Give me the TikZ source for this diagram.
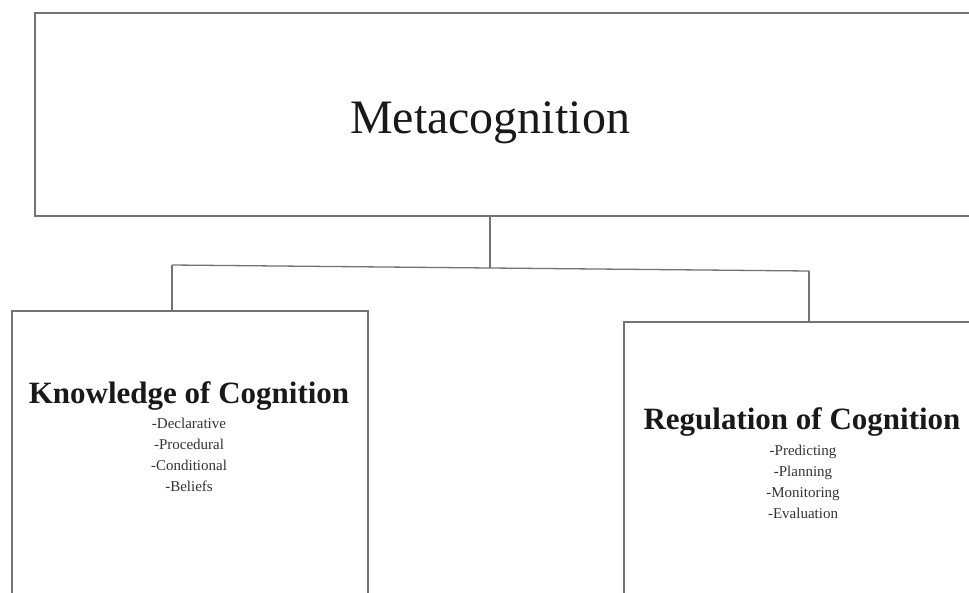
\documentclass[tikz,border=0pt]{standalone}
\usepackage{fontspec}
\setmainfont{Liberation Serif}
\begin{document}
\begin{tikzpicture}[x=1pt,y=-1pt,
  line/.style={draw=black!55, line width=1.3pt},
  boxnode/.style={line, rectangle, inner sep=0pt, fill=white},
  bigtitle/.style={font=\fontsize{48}{56}\selectfont, text=black!90},
  subtitle/.style={font=\fontsize{31}{36}\selectfont\bfseries, text=black!90},
  items/.style={font=\fontsize{15}{21}\selectfont, text=black!80, align=center}]
\useasboundingbox (0,0) rectangle (969,592);
\clip (0,0) rectangle (969,592);
\fill[white] (0,0) rectangle (969,592);
% boxes
\node[boxnode, minimum width=965pt, minimum height=203pt] (top) at (517.5,114.5) {};
\node[boxnode, minimum width=356pt, minimum height=309pt] (left) at (190,465.5) {};
\node[boxnode, minimum width=376pt, minimum height=298pt] (right) at (812,471) {};
% texts
\node[bigtitle] (ttop) at (490,123) {Metacognition};
\node[subtitle] (tleft) at (189,396) {Knowledge of Cognition};
\node[items, anchor=north] (ileft) at (189,415) {-Declarative\\-Procedural\\-Conditional\\-Beliefs};
\node[subtitle] (tright) at (802,422) {Regulation of Cognition};
\node[items, anchor=north] (iright) at (803,442) {-Predicting\\-Planning\\-Monitoring\\-Evaluation};
% connectors
\coordinate (j) at (490,268);
\coordinate (jl) at (172,265);
\coordinate (jr) at (809,271);
\draw[line] (j |- top.south) -- (j);
\draw[line] (jl) -- (jr);
\draw[line] (jl) -- (jl |- left.north);
\draw[line] (jr) -- (jr |- right.north);
\end{tikzpicture}
\end{document}
